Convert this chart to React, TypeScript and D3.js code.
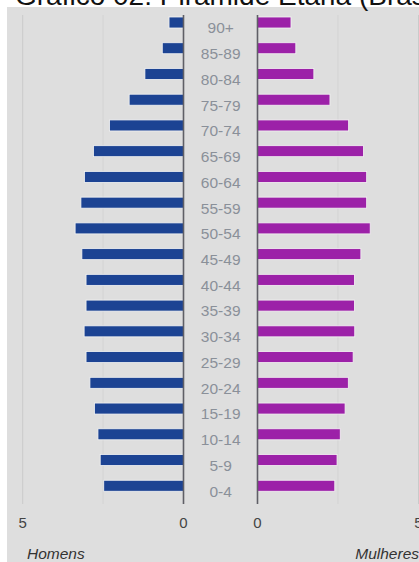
import React from "react";
import * as d3 from "d3";

const ageGroups = ["90+", "85-89", "80-84", "75-79", "70-74", "65-69", "60-64", "55-59", "50-54", "45-49", "40-44", "35-39", "30-34", "25-29", "20-24", "15-19", "10-14", "5-9", "0-4"];
const homens = [0.45, 0.66, 1.2, 1.69, 2.3, 2.8, 3.08, 3.19, 3.37, 3.16, 3.03, 3.03, 3.09, 3.03, 2.91, 2.77, 2.66, 2.59, 2.48];
const mulheres = [1.04, 1.19, 1.75, 2.25, 2.83, 3.29, 3.39, 3.39, 3.5, 3.21, 3.01, 3.01, 3.02, 2.97, 2.82, 2.72, 2.57, 2.47, 2.4];
const gridValues = [5, 2.5];
const tickValues = [5, 0];

export default function App() {
  const W = 419, H = 562;
  const top = 15, bottom = 504;
  const xL = d3.scaleLinear().domain([0, 5]).range([183.5, 22.7]);
  const xR = d3.scaleLinear().domain([0, 5]).range([257.5, 418.5]);
  const y = d3.scaleBand().domain(ageGroups).range([top, bottom]).padding(0);
  const barH = 11;
  const font = "'Liberation Sans', Arial, sans-serif";

  return (
    <svg width={W} height={H} style={{ position: "absolute", left: 0, top: 0, background: "#fff" }}>
      <rect x={7} y={7} width={W - 7} height={H - 7} fill="#dedede" />
      <text x={15} y={5} fontSize={28} fontFamily={font} fill="#111">Gráfico 02: Pirâmide Etária (Brasil)</text>
      {gridValues.map((v, i) => (
        <g key={"g" + i}>
          <line x1={xL(v)} x2={xL(v)} y1={top} y2={bottom} stroke={v === 5 ? "#cacaca" : "#d3d3d3"} strokeWidth={1} />
          <line x1={xR(v)} x2={xR(v)} y1={top} y2={bottom} stroke={v === 5 ? "#cacaca" : "#d3d3d3"} strokeWidth={1} />
        </g>
      ))}
      {ageGroups.map((a, i) => {
        const y0 = (y(a) as number) + 2;
        return (
          <g key={a}>
            <rect x={xL(homens[i])} y={y0} width={xL(0) - xL(homens[i])} height={barH} fill="#1c4393" stroke="#f4f4f4" strokeWidth={0.8} />
            <rect x={xR(0)} y={y0} width={xR(mulheres[i]) - xR(0)} height={barH} fill="#9c21a8" stroke="#f4f4f4" strokeWidth={0.8} />
            <text x={220.7} y={(y(a) as number) + y.bandwidth() / 2 + 5.5} textAnchor="middle" fontSize={15.5} fontFamily={font} fill="#8a9099">{a}</text>
          </g>
        );
      })}
      <line x1={xL(0)} x2={xL(0)} y1={top} y2={bottom} stroke="#5f5f66" strokeWidth={1.6} />
      <line x1={xR(0)} x2={xR(0)} y1={top} y2={bottom} stroke="#5f5f66" strokeWidth={1.6} />
      {tickValues.map((v) => (
        <g key={"t" + v}>
          <text x={xL(v)} y={527.5} textAnchor="middle" fontSize={15} fontFamily={font} fill="#444">{v}</text>
          <text x={xR(v)} y={527.5} textAnchor="middle" fontSize={15} fontFamily={font} fill="#444">{v}</text>
        </g>
      ))}
      <text x={27} y={558.5} fontSize={15.5} fontStyle="italic" fontFamily={font} fill="#333">Homens</text>
      <text x={419} y={558.5} textAnchor="end" fontSize={15.5} fontStyle="italic" fontFamily={font} fill="#333">Mulheres</text>
    </svg>
  );
}
